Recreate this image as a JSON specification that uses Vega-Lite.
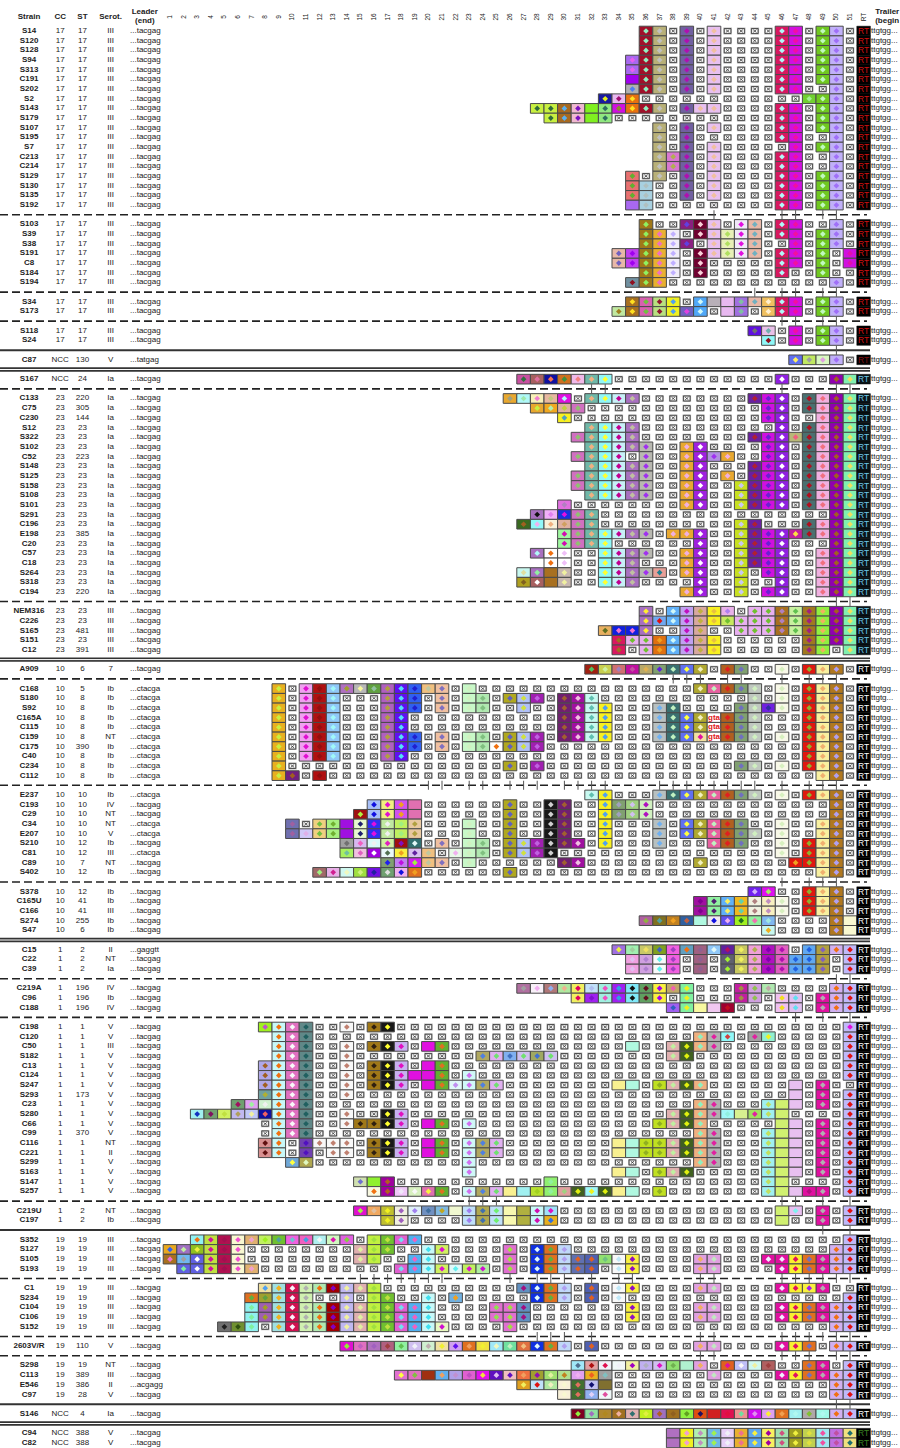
{"$schema":"https://vega.github.io/schema/vega-lite/v6.json","width":900,"height":1448,"padding":0,"autosize":{"type":"none"},"background":"white","config":{"view":{"stroke":null},"text":{"font":"Liberation Sans","fontSize":8,"color":"#222"}},
"datasets":{
"seps":[{"n":"p0","n2":"RT","s":"g1","k":"d"},{"n":"p0","n2":"RT","s":"g2","k":"d"},{"n":"p0","n2":"RT","s":"g3","k":"d"},{"n":"p0","n2":"RT","s":"g4","k":"s"},{"n":"p0","n2":"RT","s":"g5","k":"w"},{"n":"p0","n2":"RT","s":"g6","k":"d"},{"n":"p0","n2":"RT","s":"g7","k":"d"},{"n":"p0","n2":"RT","s":"g8","k":"w"},{"n":"p0","n2":"RT","s":"g9","k":"d"},{"n":"p0","n2":"RT","s":"g10","k":"d"},{"n":"p0","n2":"RT","s":"g11","k":"d"},{"n":"p0","n2":"RT","s":"g12","k":"w"},{"n":"p0","n2":"RT","s":"g13","k":"d"},{"n":"p0","n2":"RT","s":"g14","k":"d"},{"n":"p0","n2":"RT","s":"g15","k":"d"},{"n":"p0","n2":"RT","s":"g16","k":"s"},{"n":"p0","n2":"RT","s":"g17","k":"d"},{"n":"p0","n2":"RT","s":"g18","k":"d"},{"n":"p0","n2":"RT","s":"g19","k":"d"},{"n":"p0","n2":"RT","s":"g20","k":"s"},{"n":"p0","n2":"RT","s":"g21","k":"w"}],
"ticks":[{"s":"g1","n":[41,46,47,49,50]},{"s":"g2","n":[44,46,47,49,50]},{"s":"g3","n":[46,47,49,50]},{"s":"g4","n":[50]},{"s":"g6","n":[32,33,46,50,51]},{"s":"g7","n":[50,51]},{"s":"g9","n":[38,39,40,42,43,46,48,49,50]},{"s":"g10","n":[20,21,23,24,26,27,28,30,31,32,33,37,38,39,40,41,42,43,44,46,48,49,50]},{"s":"g11","n":[46,48,49,50]},{"s":"g13","n":[50,51]},{"s":"g14","n":[47,49,51]},{"s":"g15","n":[23,24,25,46,47,49,51]},{"s":"g16","n":[49,51]},{"s":"g17","n":[15,16,17,18,19,20,21,26,28,29,30,32,34,35,40,41,46,47,48,49,50,51]},{"s":"g18","n":[28,29,30,32,40,41,46,47,48,49,50,51]},{"s":"g19","n":[40,41,46,47,48,50,51]},{"s":"g20","n":[50,51]}],
"absent":[
{"s":["S14","S120","S128","S103","S39","S38","S184","NEM316","C226","S274"],"n":[36,37,38,39,40,41,42,43,44,45,46,47,48,49,50,51]},
{"s":["S94","S313","C191","S202","S129","S130","S135","S192","S194","S34","C22","C39"],"n":[35,36,37,38,39,40,41,42,43,44,45,46,47,48,49,50,51]},
{"s":["S2","S165"],"n":[33,34,35,36,37,38,39,40,41,42,43,44,45,46,47,48,49,50,51]},
{"s":["S143","C75","S291","C57"],"n":[28,29,30,31,32,33,34,35,36,37,38,39,40,41,42,43,44,45,46,47,48,49,50,51]},
{"s":["S179","C18"],"n":[29,30,31,32,33,34,35,36,37,38,39,40,41,42,43,44,45,46,47,48,49,50,51]},
{"s":["S107","S195","S7","C213","C214"],"n":[37,38,39,40,41,42,43,44,45,46,47,48,49,50,51]},
{"s":["S191","C8","S173","S151","C12","C15","S163"],"n":[34,35,36,37,38,39,40,41,42,43,44,45,46,47,48,49,50,51]},
{"s":["S118","S378"],"n":[44,45,46,47,48,49,50,51]},{"s":["S24","S47"],"n":[45,46,47,48,49,50,51]},{"s":["C87"],"n":[47,48,49,50,51]},
{"s":["S167","C196","S264","S318","C219A","E546"],"n":[27,28,29,30,31,32,33,34,35,36,37,38,39,40,41,42,43,44,45,46,47,48,49,50,51]},
{"s":["C133"],"n":[26,27,28,29,30,31,32,33,34,35,36,37,38,39,40,41,42,43,44,45,46,47,48,49,50,51]},
{"s":["C230","S101","E198","C20","C97"],"n":[30,31,32,33,34,35,36,37,38,39,40,41,42,43,44,45,46,47,48,49,50,51]},
{"s":["S12","S102","S148","S108","A909","E237"],"n":[32,33,34,35,36,37,38,39,40,41,42,43,44,45,46,47,48,49,50,51]},
{"s":["S322","C52","S125","S158","C96","S298"],"n":[31,32,33,34,35,36,37,38,39,40,41,42,43,44,45,46,47,48,49,50,51]},
{"s":["C194"],"n":[39,40,41,42,43,44,45,46,47,48,49,50,51]},
{"s":["C165U","C166"],"n":[40,41,42,43,44,45,46,47,48,49,50,51]},
{"s":["C188"],"n":[38,39,40,41,42,43,44,45,46,47,48,49,50,51]},
{"s":["C168","S180","S92","C165A","C115","C159","C175","C40","C234","C112","C120","C50","S182"],"n":[9,10,11,12,13,14,15,16,17,18,19,20,21,22,23,24,25,26,27,28,29,30,31,32,33,34,35,36,37,38,39,40,41,42,43,44,45,46,47,48,49,50,51]},
{"s":["C198","C13","C124","S247","S293","C66","C99","C116","C221","C1"],"n":[8,9,10,11,12,13,14,15,16,17,18,19,20,21,22,23,24,25,26,27,28,29,30,31,32,33,34,35,36,37,38,39,40,41,42,43,44,45,46,47,48,49,50,51]},
{"s":["C193","S257"],"n":[16,17,18,19,20,21,22,23,24,25,26,27,28,29,30,31,32,33,34,35,36,37,38,39,40,41,42,43,44,45,46,47,48,49,50,51]},
{"s":["C29","S147","C219U"],"n":[15,16,17,18,19,20,21,22,23,24,25,26,27,28,29,30,31,32,33,34,35,36,37,38,39,40,41,42,43,44,45,46,47,48,49,50,51]},
{"s":["C34","E207","S299"],"n":[10,11,12,13,14,15,16,17,18,19,20,21,22,23,24,25,26,27,28,29,30,31,32,33,34,35,36,37,38,39,40,41,42,43,44,45,46,47,48,49,50,51]},
{"s":["S210","C81","2603V/R"],"n":[14,15,16,17,18,19,20,21,22,23,24,25,26,27,28,29,30,31,32,33,34,35,36,37,38,39,40,41,42,43,44,45,46,47,48,49,50,51]},
{"s":["C89","C197"],"n":[17,18,19,20,21,22,23,24,25,26,27,28,29,30,31,32,33,34,35,36,37,38,39,40,41,42,43,44,45,46,47,48,49,50,51]},
{"s":["S402"],"n":[12,13,14,15,16,17,18,19,20,21,22,23,24,25,26,27,28,29,30,31,32,33,34,35,36,37,38,39,40,41,42,43,44,45,46,47,48,49,50,51]},
{"s":["C23","S234","C104","C106"],"n":[7,8,9,10,11,12,13,14,15,16,17,18,19,20,21,22,23,24,25,26,27,28,29,30,31,32,33,34,35,36,37,38,39,40,41,42,43,44,45,46,47,48,49,50,51]},
{"s":["S280","S352"],"n":[3,4,5,6,7,8,9,10,11,12,13,14,15,16,17,18,19,20,21,22,23,24,25,26,27,28,29,30,31,32,33,34,35,36,37,38,39,40,41,42,43,44,45,46,47,48,49,50,51]},
{"s":["S127","S105","S193"],"n":[2,3,4,5,6,7,8,9,10,11,12,13,14,15,16,17,18,19,20,21,22,23,24,25,26,27,28,29,30,31,32,33,34,35,36,37,38,39,40,41,42,43,44,45,46,47,48,49,50,51]},
{"s":["S152"],"n":[5,6,7,8,9,10,11,12,13,14,15,16,17,18,19,20,21,22,23,24,25,26,27,28,29,30,31,32,33,34,35,36,37,38,39,40,41,42,43,44,45,46,47,48,49,50,51]},
{"s":["C113"],"n":[18,19,20,21,22,23,24,25,26,27,28,29,30,31,32,33,34,35,36,37,38,39,40,41,42,43,44,45,46,47,48,49,50,51]}
],
"cells":[
{"n":28,"f":"#c8f040","d":"#2f6b3a","s":["S143"]},
{"n":29,"f":"#c8f040","d":"#2f6b3a","s":["S143","S179"]},
{"n":30,"f":"#a86a20","d":"#5ab0f0","s":["S143","S179"]},
{"n":31,"f":"#f0b8d0","d":"#7a10c0","s":["S143","S179"]},
{"n":32,"f":"#80f020","s":["S143","S179"]},
{"n":33,"f":"#90e880","d":"#2f7060","s":["S143","S179"]},
{"n":33,"f":"#1a1aa0","d":"#e8f020","s":["S2"]},
{"n":34,"f":"#d010e0","d":"#8a8a30","s":["S143"]},
{"n":34,"f":"#e8b8f0","d":"#a01070","s":["S2"]},
{"n":35,"f":"#e87010","d":"#ffe020","s":["S2","S143"]},
{"n":35,"f":"#a868f0","d":"#e860f0","s":["S94","S313"]},
{"n":35,"f":"#a000f0","s":["C191"]},
{"n":35,"f":"#b0b0b0","d":"#5080f0","s":["S202"]},
{"n":35,"f":"#e87070","d":"#60b030","s":["S129","S130","S135"]},
{"n":35,"f":"#a868f0","s":["S192"]},
{"n":36,"f":"#a0102a","d":"#90f0c0","s":["S14","S120","S128","S94","S313","C191","S202","S143"]},
{"n":36,"f":"#a8d0e0","d":"#b0c0c0","s":["S130","S135","S192"]},
{"n":37,"f":"#b8b078","d":"#c0c0c0","s":["S14","S120","S128","S94","S313","C191","S202","S143","S107","S195","S7","C213","C214","S129"]},
{"n":38,"f":"#d878d0","d":"#b0b050","s":["C213","C214"]},
{"n":39,"f":"#7060a0","d":"#b010b0","s":["S14","S120","S128","S94","S313","C191","S202","S143","S107","S195","S7","C213","C214","S129","S130","S135"]},
{"n":40,"f":"#e8c0f0","d":"#f0c0a0","s":["S143"]},
{"n":41,"f":"#e8c0f0","d":"#f0c0a0","s":["S14","S120","S128","S94","S313","C191","S202","S143","S107","S7","C213","C214","S129","S130","S135","S103","S39","S38","S191"]},
{"n":46,"f":"#d81860","d":"#b0f8f8","s":["S14","S120","S128","S94","S313","C191","S202","S143","S179","S107","S195","C213","C214","S129","S130","S135","S192","S103","S39","S191","C8","S184","S34","S173"]},
{"n":47,"f":"#d010e0","d":"#f010a0","s":["S14","S120","S128","S94","S313","C191","S202","S143","S179","S107","S195","S7","C213","C214","S129","S130","S135","S192","S103","S39","S38","S191","C8","S34","S173","S118","S24"]},
{"n":48,"f":"#70d030","d":"#a0f090","s":["S2"]},
{"n":49,"f":"#70c820","d":"#c0f8c0","s":["S14","S120","S128","S94","S313","C191","S2","S143","S179","S107","S7","S129","S130","S135","S192","S39","S38","S191","C8","S184","S34","S173","S118","S24"]},
{"n":50,"f":"#c0b0f8","d":"#a070f8","s":["S14","S120","S128","S94","S313","C191","S202","S2","S143","S179","S107","S195","S7","C213","C214","S129","S130","S135","S192","S103","S39","S38","S194","S34","S173","S118","S24","C87"]},
{"n":34,"f":"#e8b8a8","d":"#7060c0","s":["S191","C8"]},
{"n":35,"f":"#c040f0","d":"#a000f0","s":["S191","C8"]},
{"n":35,"f":"#7090a0","d":"#901020","s":["S194"]},
{"n":34,"f":"#c0e8a0","d":"#a08020","s":["S173"]},
{"n":35,"f":"#a87020","d":"#ffe020","s":["S34","S173"]},
{"n":36,"f":"#a07818","d":"#90f060","s":["S103","S39","S38","S191","C8","S184","S194"]},
{"n":36,"f":"#d860b0","d":"#70c040","s":["S34","S173"]},
{"n":37,"f":"#e8b030","d":"#f070c0","s":["S39","S38","S191","C8","S184","S194"]},
{"n":37,"f":"#b8e080","d":"#901830","s":["S34","S173"]},
{"n":38,"f":"#f0ecf8","d":"#c0b0ff","s":["S39","S38","S191","C8","S184"]},
{"n":38,"f":"#f0f020","d":"#50a0f0","s":["S34","S173"]},
{"n":39,"f":"#8a2080","d":"#6040e0","s":["S103","S38"]},
{"n":39,"f":"#7060c0","d":"#e040e0","s":["S173"]},
{"n":40,"f":"#700030","d":"#f8d0d8","s":["S103","S39","S191","C8","S184"]},
{"n":40,"f":"#50a8f8","d":"#d0f8f8","s":["S34","S173"]},
{"n":41,"f":"#b8b0b8","s":["S34"]},
{"n":42,"f":"#e8f0b8","d":"#b0e060","s":["S39","S38","S191"]},
{"n":42,"f":"#e8b8f0","s":["S34","S173"]},
{"n":43,"f":"#f0e8f8","d":"#e010e0","s":["S103","S39","S38","S191"]},
{"n":43,"f":"#a070e0","d":"#80c0a0","s":["S34","S173"]},
{"n":44,"f":"#e8b8a8","d":"#70b0c0","s":["S103","S39","S38","S191","S34"]},
{"n":45,"f":"#f0c060","d":"#fff0d0","s":["S34","S173"]},
{"n":44,"f":"#6010e0","d":"#707070","s":["S118"]},
{"n":45,"f":"#e8c0e8","d":"#70b0b0","s":["S118"]},
{"n":45,"f":"#90f8f8","d":"#901020","s":["S24"]},
{"n":51,"f":"#d010e0","d":"#e010b0","s":["S191","C8"]},
{"n":47,"f":"#6070f0","d":"#fff060","s":["C87"]},
{"n":48,"f":"#c0e860","d":"#a0a0a0","s":["C87"]},
{"n":49,"f":"#d8f8c0","d":"#e0a0e0","s":["C87"]},
{"n":27,"f":"#c850a0","d":"#307040","s":["S167"]},
{"n":28,"f":"#a86060","d":"#e070a0","s":["S167"]},
{"n":29,"f":"#1010a0","d":"#f07050","s":["S167"]},
{"n":30,"f":"#d07020","d":"#409040","s":["S167"]},
{"n":31,"f":"#f0b8e8","d":"#f08080","s":["S167"]},
{"n":26,"f":"#e8a830","d":"#a0a080","s":["C133"]},
{"n":27,"f":"#b0f8f8","d":"#a0e8b0","s":["C133"]},
{"n":28,"f":"#f8f0b8","d":"#f080d0","s":["C133"]},
{"n":29,"f":"#e8b8a0","d":"#c0c880","s":["C133"]},
{"n":30,"f":"#e010e0","d":"#b0f8f8","s":["C133"]},
{"n":28,"f":"#e8a830","d":"#c8f040","s":["C75"]},
{"n":29,"f":"#f0a820","d":"#b0f0b0","s":["C75"]},
{"n":30,"f":"#e0b0a0","d":"#c0d040","s":["C75"]},
{"n":30,"f":"#f8f020","d":"#50a0c0","s":["C230"]},
{"n":30,"f":"#e070e0","d":"#b080c0","s":["S101"]},
{"n":28,"f":"#a870c0","d":"#101010","s":["S291"]},
{"n":29,"f":"#f0b0f8","d":"#e080f0","s":["S291"]},
{"n":30,"f":"#1830e0","d":"#e010e0","s":["S291"]},
{"n":27,"f":"#3a6a20","d":"#a06020","s":["C196"]},
{"n":28,"f":"#90f8f8","d":"#f0b0f0","s":["C196"]},
{"n":29,"f":"#f8f0d8","d":"#f0b080","s":["C196"]},
{"n":30,"f":"#e0b0a0","d":"#d0a060","s":["C196"]},
{"n":30,"f":"#a0f8a0","d":"#d010b0","s":["E198","C20"]},
{"n":31,"f":"#d070c0","d":"#90c070","s":["C75","S322","C52","S125","S158","S291","C196","E198","C20"]},
{"n":28,"f":"#a870c0","d":"#b0f8f8","s":["C57"]},
{"n":29,"f":"#ffffff","d":"#f07010","s":["C57","C18"]},
{"n":30,"f":"#ffffff","d":"#f0c0f8","s":["C57","C18"]},
{"n":27,"f":"#c8f8f0","d":"#e0e0a0","s":["S264"]},
{"n":28,"f":"#a870c0","d":"#90f0a0","s":["S264"]},
{"n":29,"f":"#a87020","s":["S264","S318"]},
{"n":30,"f":"#c8b8b0","d":"#f0f0a0","s":["S264","S318"]},
{"n":27,"f":"#b0a020","d":"#806020","s":["S318"]},
{"n":28,"f":"#a86060","d":"#ffffff","s":["S318"]},
{"n":32,"f":"#70b8a8","d":"#f0b080","s":["S167","C133","S12","S322","S102","C52","S148","S125","S158","S108","S291","C196","E198","C20"]},
{"n":33,"f":"#90f8f8","d":"#ffff30","s":["S167","C133","S12","S322","S102","C52","S148","S125","S158","S108","E198","C20","C57","C18","S264","S318"]},
{"n":34,"f":"#c8f0f8","d":"#c00090","s":["C133","S12","S322","S102","C52","S148","S125","S158","S108","E198","C57","C18","S264","S318"]},
{"n":35,"f":"#a870c0","d":"#c0c0a0","s":["C133","S12","S322","S102","S148","S125","S158","S108","E198","C57","C18","S264","S318"]},
{"n":36,"f":"#b8b8b0","d":"#a030f0","s":["S102","C52","S148","S125","S158","S108","E198","C57","S264"]},
{"n":37,"f":"#e8a098","d":"#208090","s":["S264"]},
{"n":38,"f":"#e8a830","d":"#f0b0e0","s":["E198"]},
{"n":39,"f":"#e8a830","d":"#f0b0e0","s":["S102","C52","S148","S125","S158","S108","S101","E198","C57","C18","S264","C194"]},
{"n":40,"f":"#a020e0","d":"#ffffff","s":["S102","C52","S148","S125","S158","S108","S101","E198","C20","C57","C18","S264","S318","C194"]},
{"n":41,"f":"#b090e0","d":"#a030f0","s":["C52"]},
{"n":42,"f":"#e8a830","d":"#f0b0e0","s":["C52","S125"]},
{"n":43,"f":"#c8e020","d":"#c8c8f0","s":["S158","S108","S101","C196","E198","C20","C57","C18","S264","S318","C194"]},
{"n":44,"f":"#6a20a0","d":"#b02030","s":["C133","S322","S148","S125","S158","S108","S101","C196","E198","C20","C57","C18"]},
{"n":45,"f":"#d010e0","d":"#6a20d0","s":["C133","C75","C230","S322","S102","C52","S148","S125","S158","S108","S101","E198","C20","C57","C18","S264","C194"]},
{"n":46,"f":"#9020e0","d":"#ffffff","s":["S167","C133","C75","C230","S12","S322","S102","C52","S148","S125","S158","S108","S101","E198","C20","C57","C18","S264","S318","C194"]},
{"n":47,"f":"#b8b878","d":"#f06080","s":["S322"]},
{"n":47,"f":"#c020a0","d":"#ffe040","s":["E198"]},
{"n":48,"f":"#4a7070","d":"#b01020","s":["C133","C75","S12","S322","S102","C52","S148","S125","S158","S108","S101","C196","E198"]},
{"n":49,"f":"#f0b0e0","d":"#f07080","s":["C133","C75","C230","S12","S322","S102","C52","S148","S125","S158","S108","S101","C196","E198","C57","C18","S264","S318","C194"]},
{"n":50,"f":"#9000b0","d":"#a06020","s":["S167","C133","C75","C230","S12","S322","S102","C52","S148","S125","S158","S108","S101","S291","C196","E198","C20","C57","C18","S264","S318","C194","NEM316","C226","S165","S151"]},
{"n":51,"f":"#80f0b0","d":"#f0e060","s":["S167","C133","C75","C230","S12","S322","S102","C52","S148","S125","S158","S108","S101","S291","C196","E198","C20","C57","C18","S264","S318","C194","NEM316","C226","S165","S151","C12"]},
{"n":33,"f":"#e8b060","d":"#607020","s":["S165"]},
{"n":34,"f":"#1020e0","d":"#f070d0","s":["S165"]},
{"n":35,"f":"#1020e0","d":"#f070d0","s":["S165"]},
{"n":34,"f":"#d81860","d":"#a07020","s":["S151","C12"]},
{"n":35,"f":"#e8b0f0","d":"#70c030","s":["S151"]},
{"n":36,"f":"#a870c0","d":"#ffee30","s":["NEM316","C226","S165"]},
{"n":36,"f":"#e8b0f0","d":"#70c030","s":["S151","C12"]},
{"n":37,"f":"#e07010","d":"#f0a020","s":["S151","C12"]},
{"n":37,"f":"#70a8f0","d":"#e01010","s":["C226"]},
{"n":38,"f":"#60b0f8","d":"#d0f8f8","s":["NEM316","C226","S151","C12"]},
{"n":39,"f":"#c0a0f0","d":"#c010c0","s":["NEM316","C226","S165","S151","C12"]},
{"n":40,"f":"#d8a8a0","d":"#c0b040","s":["NEM316","C226","S165","S151","C12"]},
{"n":41,"f":"#f8f020","d":"#e8c040","s":["NEM316","C226","S151","C12"]},
{"n":42,"f":"#e8b0e8","d":"#b080f0","s":["NEM316"]},
{"n":42,"f":"#c8e860","d":"#70c030","s":["C226"]},
{"n":43,"f":"#e8b0f0","d":"#70c030","s":["C226","S165"]},
{"n":44,"f":"#e8b0f0","d":"#70c030","s":["NEM316","C226","S165"]},
{"n":45,"f":"#e8b0f0","d":"#70c030","s":["NEM316","C226","S165"]},
{"n":46,"f":"#a87020","d":"#b080c0","s":["NEM316","C226","S165"]},
{"n":47,"f":"#c8f0a0","d":"#60c050","s":["NEM316","C226","S165"]},
{"n":48,"f":"#a07820","d":"#a02080","s":["NEM316","C226","S165","S151","C12"]},
{"n":49,"f":"#90f040","d":"#f0b060","s":["NEM316","C226","S165","S151","C12"]},
{"n":32,"f":"#a02010","d":"#50c060","s":["A909"]},
{"n":33,"f":"#c8d050","d":"#d0f0a0","s":["A909"]},
{"n":34,"f":"#d07070","d":"#a080c0","s":["A909"]},
{"n":35,"f":"#c010a0","d":"#c050a0","s":["A909"]},
{"n":36,"f":"#b8a868","d":"#e0b050","s":["A909"]},
{"n":37,"f":"#80a070","d":"#6020e0","s":["A909"]},
{"n":38,"f":"#3a7070","d":"#c0f0c0","s":["A909","S92","C165A","C115","C159","E237"]},
{"n":39,"f":"#6070f0","d":"#ffff40","s":["A909","C165A","C115","C159","E237","C34","E207"]},
{"n":40,"f":"#b0a830","d":"#f0f0c0","s":["A909","C168","C165A","C115","E237","C34","E207","C89"]},
{"n":40,"f":"#f0e0a0","d":"#e010a0","s":["C159"]},
{"n":41,"f":"#e860a0","d":"#c0f0c0","s":["C168","E237","C34","E207","S210"]},
{"n":41,"f":"#ffffff","s":["C165A","C115","C159"]},
{"n":42,"f":"#b06020","d":"#e02020","s":["A909","C168","C165A","C115","C159","E237","C34","E207","S210"]},
{"n":43,"f":"#80a070","d":"#7070c0","s":["A909","C168","S92","C165A","C115","C159","C234","E237","C34","E207","S210"]},
{"n":44,"f":"#c0c8c0","d":"#d0f0c0","s":["C168","S180","S92","C165A","C115","C159","C234","E237","E207"]},
{"n":45,"f":"#7020e0","d":"#3030a0","s":["S92"]},
{"n":46,"f":"#f8f8e8","d":"#d8f0c0","s":["A909","C168","S180","S92","C159","C234","E237","C34","E207","S210","C81","C165U","C166"]},
{"n":48,"f":"#e01810","d":"#90b030","s":["A909","C168","S180","S92","C165A","C115","C159","C175","C40","C234","E237","S210","C81","C89","S378","C165U","C166"]},
{"n":47,"f":"#e01810","d":"#f0a020","s":["C89"]},
{"n":49,"f":"#f8f0a0","d":"#f0b070","s":["A909","C168","S180","S92","C165A","C115","C159","C175","C40","C234","C112","E237","C34","E207","S210","C81","C89","S402","S378","C165U","C166"]},
{"n":50,"f":"#b07820","d":"#b0a0f0","s":["A909","C168","S180","S92","C165A","C115","C159","C175","C40","C234","C112","E237","C193","C29","C34","E207","S210","C81","C89","S402","S378","C165U","C166","S274","S47"]},
{"n":51,"f":"#f8f8d0","s":["S274","S47"]},
{"n":9,"f":"#e8b020","d":"#c8f040","s":["C168","S180","S92","C165A","C115","C159","C175","C40","C234","C112"]},
{"n":10,"f":"#702080","d":"#a06020","s":["C112"]},
{"n":11,"f":"#f0a0f0","d":"#e010d0","s":["C168","S180","S92","C165A","C115","C159","C175","C40"]},
{"n":12,"f":"#b01010","d":"#901010","s":["C168","S180","S92","C165A","C115","C159","C175","C40","C112"]},
{"n":13,"f":"#90c8f8","d":"#a0f8f8","s":["C168","S180","S92","C165A","C115","C159","C175","C40"]},
{"n":14,"f":"#b070c0","d":"#a0a030","s":["C168"]},
{"n":15,"f":"#b8b8b8","d":"#f8f8a0","s":["C168"]},
{"n":16,"f":"#60a040","d":"#90c0a0","s":["C168"]},
{"n":17,"f":"#b060c0","d":"#b0a040","s":["C168","S180","S92","C165A","C115","C159","C175","C40"]},
{"n":18,"f":"#6010f0","d":"#50e0f8","s":["C168","S180","S92","C165A","C115","C159","C175","C40"]},
{"n":19,"f":"#3060f0","d":"#2020d0","s":["C168","S180","S92","C159","C175"]},
{"n":20,"f":"#f0c080","d":"#c0c8a0","s":["C168","C81","C89"]},
{"n":21,"f":"#f0c0a0","d":"#8070c0","s":["C168","S180","S92","C159","C175","S210","C89"]},
{"n":23,"f":"#c8f8c8","d":"#d0f0c0","s":["C168","S180","S92","C159","C175","C34","E207","S210","C81","C89"]},
{"n":24,"f":"#b0e8b0","d":"#80c080","s":["S180","S92","C159","C175","S210","C81"]},
{"n":25,"f":"#ffffff","d":"#f07010","s":["C175"]},
{"n":26,"f":"#b0a820","d":"#6060c0","s":["S180","C159","C175","C234","C193","C29","C34","E207","S210","C81","S402"]},
{"n":27,"f":"#b0c0f8","d":"#d0e040","s":["S180","S92","C159","C175","S210","C81"]},
{"n":28,"f":"#a020b0","d":"#c060e0","s":["S180","C159","C175","C234","S210","C81"]},
{"n":29,"f":"#181818","d":"#d0d0d0","s":["C193","C29","C34","E207","S210","C81"]},
{"n":30,"f":"#702070","d":"#a06030","s":["S180","S92","C165A","C115","C159","C193","C29","C34","E207","S210","C89"]},
{"n":31,"f":"#a010a0","d":"#f0c0e0","s":["S180","S92","C165A","C115","C159","S210","C89"]},
{"n":32,"f":"#c8f8f0","d":"#60c0b0","s":["S180","S92","C165A","C115","C159","E237"]},
{"n":33,"f":"#f8f020","d":"#50a0f0","s":["S92","C165A","C115","C159","E237","C193","C29","C34","E207","S210"]},
{"n":34,"f":"#80a070","d":"#a0a0c0","s":["C193","C29"]},
{"n":35,"f":"#a0d080","d":"#d0c0f0","s":["C193","C29"]},
{"n":36,"f":"#d0f0c0","d":"#b010c0","s":["C193","C29"]},
{"n":37,"f":"#b8c0c0","d":"#70b0f0","s":["S92","C165A","C115","C159","E237","C34","E207","S210"]},
{"n":16,"f":"#a8c0f8","d":"#1010e0","s":["C193","C29"]},
{"n":17,"f":"#f0f080","d":"#e010d0","s":["C193","C29"]},
{"n":18,"f":"#d050f0","d":"#f0a020","s":["C193","C29"]},
{"n":19,"f":"#e070b0","s":["C193","C29"]},
{"n":15,"f":"#a01010","d":"#b0f040","s":["C29"]},
{"n":10,"f":"#7070b0","d":"#a060a0","s":["C34","E207"]},
{"n":11,"f":"#d0c8f8","d":"#e0b0e8","s":["E207"]},
{"n":12,"f":"#f0d080","d":"#70c040","s":["C34","E207"]},
{"n":13,"f":"#a8f080","d":"#70b030","s":["C34","E207"]},
{"n":14,"f":"#a010e0","s":["C34","E207"]},
{"n":15,"f":"#e8f8d0","d":"#202070","s":["C34","E207"]},
{"n":16,"f":"#3030f0","d":"#e010e0","s":["C34","E207"]},
{"n":17,"f":"#c0e8a0","d":"#f0f0f0","s":["C34","E207"]},
{"n":18,"f":"#c0f060","d":"#a0f080","s":["C34","E207"]},
{"n":19,"f":"#e8c8a0","d":"#b0a040","s":["C34","E207"]},
{"n":14,"f":"#a0a0a0","d":"#707070","s":["S210"]},
{"n":15,"f":"#d8b8f0","d":"#f060c0","s":["S210"]},
{"n":16,"f":"#d8f8f8","d":"#f0f0f0","s":["S210"]},
{"n":17,"f":"#d0f0a0","d":"#e020c0","s":["S210"]},
{"n":18,"f":"#a01010","d":"#8010c0","s":["S210"]},
{"n":19,"f":"#307070","d":"#e0f8f8","s":["S210"]},
{"n":14,"f":"#a8f060","d":"#70c0a0","s":["C81"]},
{"n":15,"f":"#f0c0e0","d":"#e060c0","s":["C81"]},
{"n":16,"f":"#a000e0","d":"#ffffff","s":["C81"]},
{"n":17,"f":"#e8f8f8","d":"#507050","s":["C81"]},
{"n":18,"f":"#f8f040","d":"#f0a020","s":["C81"]},
{"n":19,"f":"#d8c0f0","d":"#6020a0","s":["C81"]},
{"n":22,"f":"#e8f8e8","d":"#f0b0f0","s":["C81"]},
{"n":17,"f":"#80a070","d":"#2020f0","s":["C89"]},
{"n":18,"f":"#c080f0","d":"#c010e0","s":["C89"]},
{"n":19,"f":"#d020f0","d":"#a0f040","s":["C89"]},
{"n":12,"f":"#a06868","d":"#a0f080","s":["S402"]},
{"n":13,"f":"#e8b0e8","d":"#d02090","s":["S402"]},
{"n":14,"f":"#d0f8f0","d":"#f0f8c0","s":["S402"]},
{"n":15,"f":"#a0e040","d":"#d0f080","s":["S402"]},
{"n":16,"f":"#7010e0","d":"#2020a0","s":["S402"]},
{"n":17,"f":"#70a070","d":"#e0e0e0","s":["S402"]},
{"n":18,"f":"#f0b0f0","d":"#1010e0","s":["S402"]},
{"n":19,"f":"#e07020","d":"#f0a020","s":["S402"]},
{"n":44,"f":"#7020f0","d":"#d0b0f8","s":["S378"]},
{"n":45,"f":"#e010f0","d":"#a0f060","s":["S378"]},
{"n":40,"f":"#a010a0","d":"#800090","s":["C165U","C166"]},
{"n":41,"f":"#90f0a0","d":"#502070","s":["C165U","C166"]},
{"n":42,"f":"#60b0f8","d":"#f8f060","s":["C165U","C166"]},
{"n":43,"f":"#f0b820","d":"#60d0b0","s":["C165U","C166"]},
{"n":44,"f":"#f0f0e0","d":"#b08080","s":["C165U","C166"]},
{"n":45,"f":"#f8f0c0","d":"#c090c0","s":["C165U","C166"]},
{"n":36,"f":"#b060a0","d":"#90b040","s":["S274"]},
{"n":37,"f":"#807020","d":"#50a0a0","s":["S274"]},
{"n":38,"f":"#c08020","d":"#f0a020","s":["S274"]},
{"n":39,"f":"#3060a0","d":"#c06040","s":["S274"]},
{"n":40,"f":"#b0f8e0","s":["S274"]},
{"n":41,"f":"#f0e8f0","d":"#1010e0","s":["S274"]},
{"n":42,"f":"#6050f0","d":"#f0b0f0","s":["S274"]},
{"n":43,"f":"#a0f020","d":"#207020","s":["S274"]},
{"n":44,"f":"#90f0a0","d":"#f070b0","s":["S274"]},
{"n":45,"f":"#80b8f0","d":"#a0e8e0","s":["S274"]},
{"n":45,"f":"#c8f8f0","d":"#f0b020","s":["S47"]},
{"n":34,"f":"#a070e0","d":"#e8f040","s":["C15"]},
{"n":35,"f":"#a0f0b0","d":"#a0d0a0","s":["C15"]},
{"n":36,"f":"#c8c868","d":"#f0e060","s":["C15"]},
{"n":37,"f":"#80a020","d":"#4060c0","s":["C15"]},
{"n":38,"f":"#f060e0","d":"#a040c0","s":["C15","C22","C39"]},
{"n":39,"f":"#60a0c0","d":"#f07010","s":["C15"]},
{"n":40,"f":"#a06080","d":"#906090","s":["C15","C22","C39"]},
{"n":41,"f":"#90c8f8","d":"#e0f8f8","s":["C15"]},
{"n":42,"f":"#6020a0","d":"#b01060","s":["C15"]},
{"n":42,"f":"#606070","d":"#a0f030","s":["C22","C39"]},
{"n":43,"f":"#c8c860","d":"#f0f060","s":["C15","C22","C39"]},
{"n":44,"f":"#f0a0d8","d":"#b0b050","s":["C15","C22","C39"]},
{"n":45,"f":"#b010c0","d":"#8000b0","s":["C15","C22","C39"]},
{"n":46,"f":"#e060c0","d":"#b010b0","s":["C15","C22","C39"]},
{"n":47,"f":"#60a8f0","d":"#2060e0","s":["C22","C39"]},
{"n":48,"f":"#60a8f0","d":"#2060e0","s":["C15","C22","C39"]},
{"n":49,"f":"#b0a040","d":"#8060c0","s":["C15","C22","C39"]},
{"n":35,"f":"#f0a0e0","d":"#e0c0f0","s":["C22","C39"]},
{"n":36,"f":"#d0a0e0","d":"#b080d0","s":["C22","C39"]},
{"n":37,"f":"#f8f8f8","d":"#60f0f0","s":["C22","C39"]},
{"n":27,"f":"#b070a0","d":"#a0a0a0","s":["C219A"]},
{"n":28,"f":"#f8f0f8","d":"#f0b0f0","s":["C219A"]},
{"n":29,"f":"#b07878","d":"#90b0f0","s":["C219A"]},
{"n":30,"f":"#b0e8a0","d":"#f0b090","s":["C219A"]},
{"n":31,"f":"#f0f060","d":"#e00060","s":["C219A","C96"]},
{"n":32,"f":"#c0e0f8","d":"#b0c0f0","s":["C219A"]},
{"n":32,"f":"#a020f0","d":"#8010d0","s":["C96"]},
{"n":33,"f":"#a0f0e0","d":"#f050c0","s":["C219A","C96"]},
{"n":34,"f":"#a020f0","d":"#30a0e0","s":["C219A","C96"]},
{"n":35,"f":"#80e8f8","d":"#101010","s":["C219A","C96"]},
{"n":36,"f":"#60a060","d":"#601020","s":["C219A","C96"]},
{"n":37,"f":"#f8f040","d":"#a000f0","s":["C219A","C96"]},
{"n":38,"f":"#c0a868","d":"#f060b0","s":["C219A"]},
{"n":38,"f":"#a060f0","d":"#3060c0","s":["C188"]},
{"n":39,"f":"#80f0a0","d":"#f0f020","s":["C219A","C96","C188"]},
{"n":40,"f":"#f8f8a0","s":["C188"]},
{"n":41,"f":"#f0c8f0","s":["C188"]},
{"n":42,"f":"#a00030","d":"#c01020","s":["C188"]},
{"n":43,"f":"#c020a0","d":"#a09040","s":["C219A","C96"]},
{"n":44,"f":"#d0a0e0","d":"#90c050","s":["C219A","C96"]},
{"n":45,"f":"#b0e8b0","d":"#c0a8a8","s":["C219A"]},
{"n":46,"f":"#f0c0f0","d":"#f0e020","s":["C96","C188"]},
{"n":47,"f":"#e0c0f0","d":"#60e0f0","s":["C96","C188"]},
{"n":49,"f":"#e010a0","d":"#b0b0b0","s":["C96","C188","S247","S293","C23","C66","C99","C116","C221","S299","S163","S257","C219U","C197","S105","S193","C1","C104","C106","S298","C113"]},
{"n":50,"f":"#d0b0f0","d":"#f07010","s":["C15","C219A","C96","C188","S127","S105","S193","C104","C106","S152","2603V/R","C113","E546","C97","S146"]},
{"n":51,"f":"#c0b8f8","d":"#e01010","s":["C15","C22","C39","C219A","C96","C188","C120","C50","S182","C13","C124","S293","C23","S280","C66","C99","C116","C221","S299","S163","S147","S257","C219U","C197","S352","S127","S105","S193","S234","C104","C106","S152","2603V/R","S298","C113","E546","C97","S146"]},
{"n":51,"f":"#c0b8f8","d":"#e010e0","s":["C198"]},
{"n":8,"f":"#a0f020","d":"#c050d0","s":["C198"]},
{"n":8,"f":"#b0a8e8","d":"#a06020","s":["C13","C124","S247"]},
{"n":8,"f":"#70a0a0","d":"#b0b030","s":["S293"]},
{"n":6,"f":"#70a070","d":"#a01060","s":["C23"]},
{"n":7,"f":"#e0a0f0","d":"#a0f0a0","s":["C23"]},
{"n":8,"f":"#d0f0d0","d":"#f0f0f0","s":["C23"]},
{"n":3,"f":"#a0f0f0","d":"#1030c0","s":["S280"]},
{"n":4,"f":"#70a070","d":"#801060","s":["S280"]},
{"n":5,"f":"#d0f060","d":"#c0e040","s":["S280"]},
{"n":6,"f":"#c0b8f0","d":"#b0a060","s":["S280"]},
{"n":7,"f":"#c0c8f8","d":"#f0f0a0","s":["S280"]},
{"n":8,"f":"#1010a0","d":"#f06060","s":["S280"]},
{"n":8,"f":"#d89090","d":"#601010","s":["C116","C221"]},
{"n":9,"f":"#c8f8f8","d":"#f07010","s":["C198","C120","C50","S182","C13","C124","S247","S293","C23","S280","C66","C99","C116","C221"]},
{"n":10,"f":"#e070c0","d":"#f8f8f8","s":["C198","C120","C50","S182","C13","C124","S247","S293","C23","S280","C66","C99"]},
{"n":10,"f":"#70a8d8","d":"#ffff40","s":["S299"]},
{"n":11,"f":"#608888","d":"#206060","s":["C198","C120","C50","S182","C13","C124","S247","S293","C23","S280","C66","C99"]},
{"n":11,"f":"#7040b0","d":"#5010c0","s":["C116","C221"]},
{"n":11,"f":"#b0a850","d":"#e0f8c0","s":["S299"]},
{"n":12,"f":"#f8f8f8","d":"#c08070","s":["C116"]},
{"n":13,"f":"#f8f8f8","d":"#c08070","s":["C116","C221"]},
{"n":14,"f":"#f8f8f8","d":"#c08070","s":["C198","C50","S182","C13","C124","S247","S293","S280","C66","C116","C221"]},
{"n":15,"f":"#a07818","d":"#302010","s":["C66"]},
{"n":15,"f":"#d0e0b0","d":"#7070d0","s":["S147"]},
{"n":16,"f":"#a07818","d":"#302010","s":["C198","C50","C13","C124","S247","C66","C116","C221"]},
{"n":16,"f":"#90f030","s":["S147"]},
{"n":16,"f":"#f8f8e0","d":"#f07010","s":["S257"]},
{"n":17,"f":"#181818","d":"#ffff30","s":["C198","C50","C13","C124","S247","S280","C66","C116","C221"]},
{"n":17,"f":"#a000a0","d":"#b06020","s":["S147","S257"]},
{"n":18,"f":"#c8b0f0","d":"#e010c0","s":["C50","C13","C124","S247","S280","C66","C116","C221"]},
{"n":18,"f":"#f0c8f8","d":"#f0e8f8","s":["S257"]},
{"n":19,"f":"#e010e0","s":["C124"]},
{"n":19,"f":"#d8f0c0","d":"#f8f8f8","s":["S257"]},
{"n":20,"f":"#e010e0","s":["C50","C13","C124","S247","C66","C116","C221"]},
{"n":20,"f":"#e070b0","d":"#f8f040","s":["S257"]},
{"n":21,"f":"#60b030","d":"#e07020","s":["C50","C13","C124","S247","C66","C116","C221","S257"]},
{"n":22,"f":"#e0f8f8","d":"#c090f0","s":["S247"]},
{"n":23,"f":"#d0f8f8","d":"#d070f0","s":["C124","S247","C66","C116","C221","S299","S163","S257"]},
{"n":24,"f":"#b0a860","d":"#5080e0","s":["S182","S247","C116","C221","S257"]},
{"n":25,"f":"#e0b0f0","d":"#70e070","s":["S182","S247","C116","C221","S257"]},
{"n":26,"f":"#80b0f0","d":"#4070c0","s":["S182"]},
{"n":26,"f":"#f8f090","s":["S257"]},
{"n":27,"f":"#d0c0f0","d":"#70e070","s":["S182"]},
{"n":27,"f":"#a0f0f0","s":["S257"]},
{"n":28,"f":"#a0a860","d":"#4070d0","s":["S182"]},
{"n":28,"f":"#b8e030","d":"#a0d020","s":["S257"]},
{"n":29,"f":"#d0c0f0","d":"#70e070","s":["S182"]},
{"n":29,"f":"#90f070","d":"#90f0a0","s":["S257","S147"]},
{"n":30,"f":"#e0a0a0","d":"#a0d080","s":["S257"]},
{"n":31,"f":"#406020","d":"#e0f010","s":["S257"]},
{"n":32,"f":"#a0f8f8","d":"#f0f020","s":["S257"]},
{"n":33,"f":"#406020","d":"#e0f010","s":["S257"]},
{"n":34,"f":"#f8f090","s":["S247","C116","C221","S163","S257"]},
{"n":35,"f":"#b0f8e0","s":["C50","S247","C116","C221","S163","S257"]},
{"n":36,"f":"#c0e020","d":"#90b020","s":["C116","C221"]},
{"n":37,"f":"#c0e020","d":"#90b020","s":["S247","C66","C116","C221","S163","S257"]},
{"n":38,"f":"#e0b0b0","d":"#c0f0a0","s":["C50","S182","S247","S280","C66","C116","C221","S163"]},
{"n":39,"f":"#406020","d":"#e0f010","s":["C50","S182","S247","S280","C66","C116","C221","S163"]},
{"n":40,"f":"#f0b080","d":"#90f0c0","s":["C120","C50","S247","C23","S280","C66","C99","C116","C221","S299"]},
{"n":41,"f":"#b0b0b0","d":"#e020a0","s":["C120","C50","C23","S280","C99","C116","C221","S299"]},
{"n":42,"f":"#90f8f8","d":"#d04040","s":["C120"]},
{"n":42,"f":"#a0f8f8","d":"#90f0e0","s":["S280"]},
{"n":43,"f":"#d8f090","s":["S280"]},
{"n":44,"f":"#a0a0a0","d":"#e020a0","s":["C120"]},
{"n":44,"f":"#a0e060","d":"#e020a0","s":["S280"]},
{"n":45,"f":"#90f0d0","d":"#f0f020","s":["C120"]},
{"n":45,"f":"#a0f0f0","d":"#c0e060","s":["C23","S280","C99","C116","C221","S299","S163","S147","S257"]},
{"n":46,"f":"#d0f070","s":["C23","S280","C66","C99","C116","C221","S299","S163","S147","S257","C219U","C197"]},
{"n":47,"f":"#e8c0f0","s":["S247","S293","C23","C66","C99","C116","C221","S299","S163","S257"]},
{"n":47,"f":"#e8c0f0","d":"#80f0f0","s":["C219U"]},
{"n":48,"f":"#e010a0","d":"#b01080","s":["S257"]},
{"n":15,"f":"#e010d0","d":"#a0f040","s":["C219U"]},
{"n":16,"f":"#f0a860","d":"#e0c0a0","s":["C219U"]},
{"n":17,"f":"#c0c030","d":"#f0f020","s":["C219U","C197"]},
{"n":18,"f":"#f0f0e0","d":"#a060c0","s":["C219U","C197"]},
{"n":19,"f":"#e0f0f8","d":"#a080f0","s":["C219U"]},
{"n":20,"f":"#7090c0","d":"#4070a0","s":["C219U"]},
{"n":21,"f":"#80b8e0","d":"#c0a820","s":["C219U"]},
{"n":22,"f":"#f0f8d0","s":["C219U"]},
{"n":23,"f":"#c0e0f8","d":"#a080f0","s":["C219U","C197"]},
{"n":24,"f":"#b0a850","d":"#4070b0","s":["C219U","C197"]},
{"n":25,"f":"#c0e0f8","d":"#70f070","s":["C219U","C197"]},
{"n":26,"f":"#f8f8b0","s":["C219U","C197"]},
{"n":27,"f":"#b0b040","s":["C219U","C197"]},
{"n":28,"f":"#c8f8f8","d":"#d010b0","s":["C219U","C197"]},
{"n":29,"f":"#a0e0f8","d":"#e010c0","s":["C219U"]},
{"n":29,"f":"#e8b020","d":"#3070e0","s":["C197"]},
{"n":1,"f":"#e8a820","d":"#3060f0","s":["S127"]},
{"n":1,"f":"#a87020","d":"#f070d0","s":["S105"]},
{"n":2,"f":"#a070c0","d":"#c0f0a0","s":["S127"]},
{"n":2,"f":"#70b8f0","d":"#a0a0a0","s":["S105"]},
{"n":2,"f":"#6060e0","d":"#80f0a0","s":["S193"]},
{"n":3,"f":"#90f0f0","d":"#f07010","s":["S352"]},
{"n":3,"f":"#90c020","d":"#f0f040","s":["S127"]},
{"n":3,"f":"#6060e0","d":"#ffffff","s":["S105","S193"]},
{"n":4,"f":"#c0e040","d":"#d010a0","s":["S352","S127","S105","S193"]},
{"n":5,"f":"#b01050","d":"#a01050","s":["S352","S127","S105","S193"]},
{"n":6,"f":"#f8f8d0","d":"#f050d0","s":["S352","S127","S105","S193"]},
{"n":7,"f":"#e0b070","d":"#f0a0d0","s":["S352","S193"]},
{"n":8,"f":"#c0f060","d":"#a0f020","s":["S352"]},
{"n":9,"f":"#70c030","d":"#50a0a0","s":["S352"]},
{"n":10,"f":"#f060e0","d":"#70c0d0","s":["S352"]},
{"n":11,"f":"#f060c0","d":"#40a0e0","s":["S352"]},
{"n":12,"f":"#b0f0f0","d":"#f0f8f8","s":["S352"]},
{"n":13,"f":"#d0f8c0","d":"#e010b0","s":["S352"]},
{"n":14,"f":"#e060e0","d":"#80d040","s":["S352"]},
{"n":15,"f":"#e0b0b0","d":"#e0f0a0","s":["S127","S105","C1","C104","C106","S152"]},
{"n":16,"f":"#c0f040","d":"#a0e040","s":["S352","S127","S105","C1","S234","C104","C106","S152"]},
{"n":17,"f":"#70c030","d":"#c0e040","s":["S352","S127","S234","C104","C106","S152"]},
{"n":18,"f":"#e060d0","d":"#70e0f0","s":["S352","S193","C104","C106","S152"]},
{"n":19,"f":"#50b0f0","d":"#f060c0","s":["S352","S105","S193","C104","C106","S152"]},
{"n":20,"f":"#c8f8f8","d":"#40e0f0","s":["S127","S105","S193","S234","C104","C106","S152"]},
{"n":21,"f":"#d0f060","d":"#e010d0","s":["S127","S193"]},
{"n":21,"f":"#e8f8c0","d":"#d010d0","s":["S152"]},
{"n":22,"f":"#e0f8f8","d":"#60f0f0","s":["S193"]},
{"n":22,"f":"#70b0e0","d":"#f0a020","s":["S234"]},
{"n":23,"f":"#c0f060","d":"#e010d0","s":["S193"]},
{"n":24,"f":"#b0f0a0","d":"#d010d0","s":["S193"]},
{"n":25,"f":"#e070d0","d":"#90e050","s":["C104","C106"]},
{"n":26,"f":"#e070d0","d":"#a0e040","s":["S127","S105","S193","C104","C106","S152"]},
{"n":27,"f":"#6090c0","d":"#a01080","s":["C1","C104","C106"]},
{"n":28,"f":"#1030e0","d":"#e0f8f8","s":["S127","S105","S193","C1","S234"]},
{"n":29,"f":"#e07020","d":"#60b040","s":["S127","S105","S193","C1","S234"]},
{"n":30,"f":"#c0d8f8","d":"#b0a0f0","s":["S127","S105","S193","C1","S234"]},
{"n":31,"f":"#6070b0","d":"#e06020","s":["S105","S193"]},
{"n":32,"f":"#5060b0","d":"#e06020","s":["S105","S193","C1","S234"]},
{"n":33,"f":"#90e070","d":"#70c080","s":["S105"]},
{"n":34,"f":"#f8f8f8","d":"#c0e8f8","s":["S105","S193","C1","S234"]},
{"n":35,"f":"#f8f040","d":"#9010c0","s":["S105","S193","C1","C104","C106"]},
{"n":40,"f":"#e0a0e0","d":"#f0b060","s":["S105","S193","C1","C104","C106","2603V/R"]},
{"n":41,"f":"#e0a0e0","d":"#c0e8c0","s":["S105","S193","C1","C104","C106","2603V/R","C113"]},
{"n":45,"f":"#e010a0","d":"#f0f0ff","s":["S105"]},
{"n":46,"f":"#e010a0","d":"#f0f0ff","s":["S105","S193","C1","C104","C106","2603V/R","C113"]},
{"n":47,"f":"#f8f030","d":"#e01060","s":["S105","S193","C1","C104","C106","2603V/R","C113"]},
{"n":48,"f":"#e07020","d":"#7070c0","s":["S105","S193","C104","C106","2603V/R","C113","S298"]},
{"n":48,"f":"#f8f040","d":"#a020f0","s":["C1"]},
{"n":8,"f":"#f0e0a0","d":"#50a0f0","s":["C1"]},
{"n":9,"f":"#a0e0e0","d":"#f0b020","s":["C1","S234","C104","C106","S152"]},
{"n":10,"f":"#d01050","d":"#f8f0f8","s":["C1","S234","C104","C106","S152"]},
{"n":11,"f":"#d0f0b0","d":"#b0b0b0","s":["C1","S234","C104","C106","S152"]},
{"n":12,"f":"#b0e8b0","d":"#f07010","s":["C1","C104","C106","S152"]},
{"n":13,"f":"#a00000","d":"#8000c0","s":["C1","C104","C106","S152"]},
{"n":14,"f":"#c0b8f0","d":"#f0f0a0","s":["C1","S234","C104","C106","S152"]},
{"n":7,"f":"#e07020","d":"#60b040","s":["S234"]},
{"n":8,"f":"#a0a030","d":"#60a040","s":["S234"]},
{"n":7,"f":"#90f0f0","d":"#80f0a0","s":["C104","C106","S152"]},
{"n":8,"f":"#a060b0","d":"#a0a020","s":["C104","C106"]},
{"n":5,"f":"#707070","d":"#202020","s":["S152"]},
{"n":6,"f":"#709030","d":"#305010","s":["S152"]},
{"n":14,"f":"#e010d0","d":"#90f030","s":["2603V/R"]},
{"n":15,"f":"#e070c0","d":"#c060c0","s":["2603V/R"]},
{"n":16,"f":"#b070c0","d":"#a060c0","s":["2603V/R"]},
{"n":17,"f":"#b06080","d":"#a04040","s":["2603V/R"]},
{"n":18,"f":"#90f0a0","d":"#60c050","s":["2603V/R"]},
{"n":19,"f":"#d0c0f0","d":"#f0f0f8","s":["2603V/R"]},
{"n":20,"f":"#d0f0d0","d":"#c0b0b0","s":["2603V/R"]},
{"n":21,"f":"#f0e0a0","d":"#f0f030","s":["2603V/R"]},
{"n":22,"f":"#d0a0f0","d":"#6010f0","s":["2603V/R"]},
{"n":23,"f":"#e07020","d":"#f0a060","s":["2603V/R"]},
{"n":24,"f":"#f0e040","d":"#f0f030","s":["2603V/R"]},
{"n":25,"f":"#a0e8f8","d":"#f0f8c0","s":["2603V/R"]},
{"n":26,"f":"#70e0a0","d":"#c0f0c0","s":["2603V/R"]},
{"n":27,"f":"#e07040","d":"#f0c080","s":["2603V/R"]},
{"n":28,"f":"#1030e0","d":"#e0f8f8","s":["2603V/R"]},
{"n":29,"f":"#e07020","d":"#60b040","s":["2603V/R"]},
{"n":30,"f":"#c0d8f8","d":"#b0a0f0","s":["2603V/R"]},
{"n":32,"f":"#5060b0","d":"#e06020","s":["2603V/R"]},
{"n":31,"f":"#a0e8f8","d":"#507090","s":["S298"]},
{"n":32,"f":"#e0a0a0","d":"#b01010","s":["S298"]},
{"n":33,"f":"#f0f0f8","d":"#e01050","s":["S298"]},
{"n":34,"f":"#f0f8f8","d":"#f0f0f8","s":["S298"]},
{"n":35,"f":"#f0f0a0","d":"#a000c0","s":["S298"]},
{"n":36,"f":"#c0b0f0","d":"#b0b0c0","s":["S298"]},
{"n":37,"f":"#d0c0f0","d":"#e010c0","s":["S298"]},
{"n":38,"f":"#90e070","d":"#70b050","s":["S298"]},
{"n":39,"f":"#b0f0d0","s":["S298"]},
{"n":40,"f":"#e0a0e0","d":"#f0b060","s":["S298"]},
{"n":42,"f":"#e06020","d":"#e010a0","s":["S298"]},
{"n":43,"f":"#c0c0f8","d":"#f8f8f8","s":["S298"]},
{"n":44,"f":"#d0f8f0","d":"#f0f0a0","s":["S298"]},
{"n":45,"f":"#b06060","d":"#a04040","s":["S298"]},
{"n":18,"f":"#e070d0","d":"#ffff40","s":["C113"]},
{"n":19,"f":"#e070c0","d":"#80c040","s":["C113"]},
{"n":20,"f":"#a03010","s":["C113"]},
{"n":21,"f":"#60b0f0","d":"#f0a060","s":["C113"]},
{"n":22,"f":"#b0a0e8","d":"#c090d0","s":["C113"]},
{"n":23,"f":"#e060d0","d":"#c050c0","s":["C113"]},
{"n":24,"f":"#e010f0","d":"#f0e040","s":["C113"]},
{"n":25,"f":"#6010c0","d":"#e0c0f0","s":["C113"]},
{"n":26,"f":"#f0c0c0","d":"#6010c0","s":["C113"]},
{"n":27,"f":"#f07040","d":"#f0a060","s":["C113"]},
{"n":28,"f":"#a0a030","d":"#9010b0","s":["C113"]},
{"n":29,"f":"#a0e070","d":"#e0f0a0","s":["C113"]},
{"n":30,"f":"#b0e090","d":"#c08020","s":["C113"]},
{"n":31,"f":"#e0a0f0","d":"#f0b0f0","s":["C113"]},
{"n":32,"f":"#e8b020","d":"#f06020","s":["C113"]},
{"n":33,"f":"#a0a0a0","d":"#80c0c0","s":["C113"]},
{"n":27,"f":"#e0a020","d":"#f0f060","s":["E546"]},
{"n":28,"f":"#c0e0f8","d":"#e01010","s":["E546"]},
{"n":29,"f":"#b0e8a0","d":"#f0f0c0","s":["E546"]},
{"n":30,"f":"#f8f0d8","d":"#f8f8d0","s":["E546","C97"]},
{"n":31,"f":"#407030","d":"#e07060","s":["E546","C97"]},
{"n":32,"f":"#c0c0f0","d":"#101070","s":["E546"]},
{"n":33,"f":"#807030","s":["E546"]},
{"n":32,"f":"#90b0f0","d":"#e0d0f8","s":["C97"]},
{"n":33,"f":"#f0f8f8","d":"#e050a0","s":["C97"]},
{"n":31,"f":"#800020","d":"#90f040","s":["S146"]},
{"n":32,"f":"#90e0a0","d":"#a070c0","s":["S146"]},
{"n":33,"f":"#b08830","d":"#b08820","s":["S146"]},
{"n":34,"f":"#a07020","d":"#f0b0a0","s":["S146"]},
{"n":35,"f":"#e0b0b0","d":"#307070","s":["S146"]},
{"n":36,"f":"#c0f020","d":"#e0f040","s":["S146"]},
{"n":37,"f":"#a070c0","d":"#b06020","s":["S146"]},
{"n":38,"f":"#a07020","d":"#906020","s":["S146"]},
{"n":39,"f":"#90f040","d":"#60a020","s":["S146"]},
{"n":40,"f":"#e05010","d":"#201060","s":["S146"]},
{"n":41,"f":"#d02020","s":["S146"]},
{"n":42,"f":"#e01050","d":"#e01040","s":["S146"]},
{"n":43,"f":"#f09090","d":"#70e0a0","s":["S146"]},
{"n":44,"f":"#d010f0","d":"#e090f0","s":["S146"]},
{"n":45,"f":"#e0a0f0","d":"#f8f030","s":["S146"]},
{"n":46,"f":"#e07020","d":"#f0a050","s":["S146"]},
{"n":47,"f":"#a0f0f0","d":"#b0f8f0","s":["S146"]},
{"n":48,"f":"#b0a8a8","d":"#80c030","s":["S146"]},
{"n":49,"f":"#a0f8e8","d":"#b0f8f0","s":["S146"]},
{"n":38,"f":"#b070c0","s":["C94","C82"]},
{"n":39,"f":"#f0f020","d":"#f0a0d0","s":["C94","C82"]},
{"n":40,"f":"#b0f0b0","d":"#c090c0","s":["C94","C82"]},
{"n":41,"f":"#70b8e8","d":"#a0f050","s":["C94","C82"]},
{"n":42,"f":"#e8d0f8","d":"#f0f0f8","s":["C94","C82"]},
{"n":43,"f":"#e8b030","d":"#f07090","s":["C94","C82"]},
{"n":44,"f":"#60a8f0","d":"#f8f040","s":["C94","C82"]},
{"n":45,"f":"#f8f060","d":"#a000a0","s":["C94","C82"]},
{"n":46,"f":"#a0e0b0","d":"#d05080","s":["C94","C82"]},
{"n":47,"f":"#a0a020","d":"#f0f040","s":["C94","C82"]},
{"n":48,"f":"#c0d050","d":"#e0e040","s":["C94","C82"]},
{"n":49,"f":"#a0e8f0","d":"#f050a0","s":["C94","C82"]},
{"n":50,"f":"#c070e0","d":"#c050a0","s":["C94","C82"]},
{"n":51,"f":"#f0e080","d":"#207070","s":["C94","C82"]}
],
"gta":[{"n":41,"s":["C165A","C115","C159"],"t":"gta"}],
"rts":[
{"n":"RT","c":"#d01010","f":"#000000","s":["S14","S120","S128","S94","S313","C191","S202","S2","S143","S179","S107","S195","S7","C213","C214","S129","S130","S135","S192","S103","S39","S38","S191","C8","S184","S194","S34","S173","S118","S24"]},
{"n":"RT","c":"#801010","f":"#000000","s":["C87"]},
{"n":"RT","c":"#70c8e8","f":"#0a1418","s":["S167","C133","C75","C230","S12","S322","S102","C52","S148","S125","S158","S108","S101","S291","C196","E198","C20","C57","C18","S264","S318","C194","NEM316","C226","S165","S151","C12"]},
{"n":"RT","c":"#ffffff","f":"#000000","s":["A909","C168","S180","S92","C165A","C115","C159","C175","C40","C234","C112","E237","C193","C29","C34","E207","S210","C81","C89","S402","S378","C165U","C166","S274","S47","C15","C22","C39","C219A","C96","C188","C198","C120","C50","S182","C13","C124","S247","S293","C23","S280","C66","C99","C116","C221","S299","S163","S147","S257","C219U","C197","S352","S127","S105","S193","C1","S234","C104","C106","S152","2603V/R","S298","C113","E546","C97","S146"]},
{"n":"RT","c":"#3a8020","f":"#000000","s":["C94","C82"]}
],
"names":[{"n":"Strain","s":["S14","S120","S128","S94","S313","C191","S202","S2","S143","S179","S107","S195","S7","C213","C214","S129","S130","S135","S192","S103","S39","S38","S191","C8","S184","S194","S34","S173","S118","S24","C87","S167","C133","C75","C230","S12","S322","S102","C52","S148","S125","S158","S108","S101","S291","C196","E198","C20","C57","C18","S264","S318","C194","NEM316","C226","S165","S151","C12","A909","C168","S180","S92","C165A","C115","C159","C175","C40","C234","C112","E237","C193","C29","C34","E207","S210","C81","C89","S402","S378","C165U","C166","S274","S47","C15","C22","C39","C219A","C96","C188","C198","C120","C50","S182","C13","C124","S247","S293","C23","S280","C66","C99","C116","C221","S299","S163","S147","S257","C219U","C197","S352","S127","S105","S193","C1","S234","C104","C106","S152","2603V/R","S298","C113","E546","C97","S146","C94","C82"]}],
"trailers":[{"n":"Trailer","t":"ttgtgg...","s":["S14","S120","S128","S94","S313","C191","S202","S2","S143","S179","S107","S195","S7","C213","C214","S129","S130","S135","S192","S103","S39","S38","S191","C8","S184","S194","S34","S173","S118","S24","C87","S167","C133","C75","C230","S12","S322","S102","C52","S148","S125","S158","S108","S101","S291","C196","E198","C20","C57","C18","S264","S318","C194","NEM316","C226","S165","S151","C12","A909","C168","S92","C165A","C115","C159","C175","C40","C234","C112","E237","C193","C29","C34","E207","S210","C81","C89","S402","S378","C165U","C166","S274","S47","C15","C22","C39","C219A","C96","C188","C198","C120","C50","S182","C13","C124","S247","S293","C23","S280","C66","C99","C116","C221","S299","S163","S147","S257","C219U","C197","S352","S127","S105","S193","C1","S234","C104","C106","S152","2603V/R","S298","C113","E546","C97","S146","C94","C82"]},{"n":"Trailer","t":"ttgtg...","s":["S180"]}],
"table":[
{"s":["S14","S120","S128","S94","S313","C191","S202","S2","S143","S179","S107","S195","S7","C213","C214","S129","S130","S135","S192","S103","S39","S38","S191","C8","S184","S194","S34","S173","S118","S24"],"CC":"17","ST":"17","Serot":"III","Leader":"...tacgag"},
{"s":["C87"],"CC":"NCC","ST":"130","Serot":"V","Leader":"...tatgag"},
{"s":["S167"],"CC":"NCC","ST":"24","Serot":"Ia","Leader":"...tacgag"},
{"s":["C133","C194"],"CC":"23","ST":"220","Serot":"Ia","Leader":"...tacgag"},
{"s":["C75"],"CC":"23","ST":"305","Serot":"Ia","Leader":"...tacgag"},
{"s":["C230"],"CC":"23","ST":"144","Serot":"Ia","Leader":"...tacgag"},
{"s":["C52"],"CC":"23","ST":"223","Serot":"Ia","Leader":"...tacgag"},
{"s":["E198"],"CC":"23","ST":"385","Serot":"Ia","Leader":"...tacgag"},
{"s":["S12","S322","S102","S148","S125","S158","S108","S101","S291","C196","C20","C57","C18","S264","S318"],"CC":"23","ST":"23","Serot":"Ia","Leader":"...tacgag"},
{"s":["NEM316","C226","S151"],"CC":"23","ST":"23","Serot":"III","Leader":"...tacgag"},
{"s":["S165"],"CC":"23","ST":"481","Serot":"III","Leader":"...tacgag"},
{"s":["C12"],"CC":"23","ST":"391","Serot":"III","Leader":"...tacgag"},
{"s":["A909"],"CC":"10","ST":"6","Serot":"7","Leader":"...tacgag"},
{"s":["C168"],"CC":"10","ST":"5","Serot":"Ib","Leader":"...ctacga"},
{"s":["S180","S92","C165A","C115","C40","C234","C112"],"CC":"10","ST":"8","Serot":"Ib","Leader":"...ctacga"},
{"s":["C159"],"CC":"10","ST":"8","Serot":"NT","Leader":"...ctacga"},
{"s":["C175"],"CC":"10","ST":"390","Serot":"Ib","Leader":"...ctacga"},
{"s":["E237"],"CC":"10","ST":"10","Serot":"Ib","Leader":"...ctacga"},
{"s":["C193"],"CC":"10","ST":"10","Serot":"IV","Leader":"...tacgag"},
{"s":["C29"],"CC":"10","ST":"10","Serot":"NT","Leader":"...tacgag"},
{"s":["C34"],"CC":"10","ST":"10","Serot":"NT","Leader":"...ctacga"},
{"s":["E207"],"CC":"10","ST":"10","Serot":"V","Leader":"...ctacga"},
{"s":["S210","S402","S378"],"CC":"10","ST":"12","Serot":"Ib","Leader":"...tacgag"},
{"s":["C81"],"CC":"10","ST":"12","Serot":"III","Leader":"...ctacga"},
{"s":["C89"],"CC":"10","ST":"7","Serot":"NT","Leader":"...tacgag"},
{"s":["C165U"],"CC":"10","ST":"41","Serot":"Ib","Leader":"...tacgag"},
{"s":["C166"],"CC":"10","ST":"41","Serot":"III","Leader":"...tacgag"},
{"s":["S274"],"CC":"10","ST":"255","Serot":"Ib","Leader":"...tacgag"},
{"s":["S47"],"CC":"10","ST":"6","Serot":"Ib","Leader":"...tacgag"},
{"s":["C15"],"CC":"1","ST":"2","Serot":"II","Leader":"...gaggtt"},
{"s":["C22","C219U"],"CC":"1","ST":"2","Serot":"NT","Leader":"...tacgag"},
{"s":["C39"],"CC":"1","ST":"2","Serot":"Ia","Leader":"...tacgag"},
{"s":["C219A","C188"],"CC":"1","ST":"196","Serot":"IV","Leader":"...tacgag"},
{"s":["C96"],"CC":"1","ST":"196","Serot":"Ib","Leader":"...tacgag"},
{"s":["C198","C120","S182","C13","C124","S247","C23","S280","C66","S299","S163","S147","S257"],"CC":"1","ST":"1","Serot":"V","Leader":"...tacgag"},
{"s":["C50"],"CC":"1","ST":"1","Serot":"III","Leader":"...tacgag"},
{"s":["S293"],"CC":"1","ST":"173","Serot":"V","Leader":"...tacgag"},
{"s":["C99"],"CC":"1","ST":"370","Serot":"V","Leader":"...tacgag"},
{"s":["C116"],"CC":"1","ST":"1","Serot":"NT","Leader":"...tacgag"},
{"s":["C221"],"CC":"1","ST":"1","Serot":"II","Leader":"...tacgag"},
{"s":["C197"],"CC":"1","ST":"2","Serot":"Ib","Leader":"...tacgag"},
{"s":["S352","S127","S105","S193","C1","S234","C104","C106","S152"],"CC":"19","ST":"19","Serot":"III","Leader":"...tacgag"},
{"s":["2603V/R"],"CC":"19","ST":"110","Serot":"V","Leader":"...tacgag"},
{"s":["S298"],"CC":"19","ST":"19","Serot":"NT","Leader":"...tacgag"},
{"s":["C113"],"CC":"19","ST":"389","Serot":"III","Leader":"...tacgag"},
{"s":["E546"],"CC":"19","ST":"386","Serot":"II","Leader":"...acgagg"},
{"s":["C97"],"CC":"19","ST":"28","Serot":"V","Leader":"...tacgag"},
{"s":["S146"],"CC":"NCC","ST":"4","Serot":"Ia","Leader":"...tacgag"},
{"s":["C94","C82"],"CC":"NCC","ST":"388","Serot":"V","Leader":"...tacgag"}
],
"numbers":[{"s":"h2","n":[1,2,3,4,5,6,7,8,9,10,11,12,13,14,15,16,17,18,19,20,21,22,23,24,25,26,27,28,29,30,31,32,33,34,35,36,37,38,39,40,41,42,43,44,45,46,47,48,49,50,51,"RT"]}],
"heads":[{"n":"Strain","s":"h2","t":"Strain","k":"a"},{"n":"CC","s":"h2","t":"CC","k":"b"},{"n":"ST","s":"h2","t":"ST","k":"c"},{"n":"Serot","s":"h2","t":"Serot.","k":"a"},{"n":"Leader","s":"h1","t":"Leader","k":"d"},{"n":"Leader","s":"h2","t":"(end)","k":"d"},{"n":"Trailer","s":"h1","t":"Trailer","k":"e"},{"n":"Trailer","s":"h2","t":"(begin","k":"e"}]
},
"encoding":{
"x":{"field":"n","type":"nominal","axis":null,"scale":{"type":"band","range":[0,897.6],"paddingInner":0,"paddingOuter":0,"domain":["p0","p1","Strain","p3","CC","p5","ST","p7","Serot","p9","Leader","p11",1,2,3,4,5,6,7,8,9,10,11,12,13,14,15,16,17,18,19,20,21,22,23,24,25,26,27,28,29,30,31,32,33,34,35,36,37,38,39,40,41,42,43,44,45,46,47,48,49,50,51,"RT","Trailer","p65"]}},
"y":{"field":"s","type":"nominal","axis":null,"scale":{"type":"band","range":[6.86,1447.69],"paddingInner":0,"paddingOuter":0,"domain":["h1","h2","S14","S120","S128","S94","S313","C191","S202","S2","S143","S179","S107","S195","S7","C213","C214","S129","S130","S135","S192","g1","S103","S39","S38","S191","C8","S184","S194","g2","S34","S173","g3","S118","S24","g4","C87","g5","S167","g6","C133","C75","C230","S12","S322","S102","C52","S148","S125","S158","S108","S101","S291","C196","E198","C20","C57","C18","S264","S318","C194","g7","NEM316","C226","S165","S151","C12","g8","A909","g9","C168","S180","S92","C165A","C115","C159","C175","C40","C234","C112","g10","E237","C193","C29","C34","E207","S210","C81","C89","S402","g11","S378","C165U","C166","S274","S47","g12","C15","C22","C39","g13","C219A","C96","C188","g14","C198","C120","C50","S182","C13","C124","S247","S293","C23","S280","C66","C99","C116","C221","S299","S163","S147","S257","g15","C219U","C197","g16","S352","S127","S105","S193","g17","C1","S234","C104","C106","S152","g18","2603V/R","g19","S298","C113","E546","C97","g20","S146","g21","C94","C82"]}}
},
"layer":[
{"data":{"name":"seps"},"transform":[{"filter":"datum.k=='d'"}],"mark":{"type":"rule","stroke":"#222","strokeWidth":1.6,"strokeDash":[8,4],"xOffset":-6.8,"x2Offset":3.4},"encoding":{"x2":{"field":"n2"}}},
{"data":{"name":"seps"},"transform":[{"filter":"datum.k=='s'"}],"mark":{"type":"rule","stroke":"#333","strokeWidth":2,"xOffset":-6.8,"x2Offset":6.4},"encoding":{"x2":{"field":"n2"}}},
{"data":{"name":"seps"},"transform":[{"filter":"datum.k=='w'"}],"mark":{"type":"rule","stroke":"#333","strokeWidth":4.4,"xOffset":-6.8,"x2Offset":6.4},"encoding":{"x2":{"field":"n2"}}},
{"data":{"name":"seps"},"transform":[{"filter":"datum.k=='w'"}],"mark":{"type":"rule","stroke":"#fff","strokeWidth":1,"xOffset":-6.8,"x2Offset":6.4},"encoding":{"x2":{"field":"n2"}}},
{"data":{"name":"ticks"},"transform":[{"flatten":["n"]}],"mark":{"type":"tick","orient":"vertical","size":9,"thickness":1,"color":"#555","opacity":1}},
{"data":{"name":"absent"},"transform":[{"flatten":["s"]},{"flatten":["n"]}],"mark":{"type":"point","shape":"M-1,-0.75H1V0.75H-1Z","size":46,"filled":true,"fill":"#fff","stroke":"#bdbdbd","strokeWidth":1.8,"opacity":1}},
{"data":{"name":"absent"},"transform":[{"flatten":["s"]},{"flatten":["n"]}],"mark":{"type":"point","shape":"M-1,-0.75H1V0.75H-1ZM-0.5,-0.4L0.5,0.4M-0.5,0.4L0.5,-0.4","size":46,"filled":false,"stroke":"#222","strokeWidth":0.7,"opacity":1}},
{"data":{"name":"cells"},"transform":[{"flatten":["s"]}],"mark":{"type":"rect","stroke":"#4a4a4a","strokeWidth":1},"encoding":{"fill":{"field":"f","type":"nominal","scale":null}}},
{"data":{"name":"cells"},"transform":[{"flatten":["s"]},{"filter":"datum.d"}],"mark":{"type":"point","shape":"diamond","size":32,"filled":true,"opacity":1},"encoding":{"fill":{"field":"d","type":"nominal","scale":null}}},
{"data":{"name":"gta"},"transform":[{"flatten":["s"]}],"mark":{"type":"text","color":"#e02020","fontSize":8,"fontWeight":"bold"},"encoding":{"text":{"field":"t"}}},
{"data":{"name":"rts"},"transform":[{"flatten":["s"]}],"mark":{"type":"rect","stroke":"#000","strokeWidth":0.5},"encoding":{"fill":{"field":"f","type":"nominal","scale":null}}},
{"data":{"name":"rts"},"transform":[{"flatten":["s"]}],"mark":{"type":"text","fontSize":8.5},"encoding":{"text":{"field":"n"},"color":{"field":"c","type":"nominal","scale":null}}},
{"data":{"name":"names"},"transform":[{"flatten":["s"]}],"mark":{"type":"text","fontWeight":"bold","dx":-5},"encoding":{"text":{"field":"s"}}},
{"data":{"name":"table"},"transform":[{"flatten":["s"]},{"fold":["CC"],"as":["n","t"]}],"mark":{"type":"text","dx":-1},"encoding":{"text":{"field":"t"}}},
{"data":{"name":"table"},"transform":[{"flatten":["s"]},{"fold":["ST"],"as":["n","t"]}],"mark":{"type":"text","dx":-6},"encoding":{"text":{"field":"t"}}},
{"data":{"name":"table"},"transform":[{"flatten":["s"]},{"fold":["Serot"],"as":["n","t"]}],"mark":{"type":"text","dx":-5},"encoding":{"text":{"field":"t"}}},
{"data":{"name":"table"},"transform":[{"flatten":["s"]},{"fold":["Leader"],"as":["n","t"]}],"mark":{"type":"text","align":"left","dx":-12.8},"encoding":{"text":{"field":"t"}}},
{"data":{"name":"trailers"},"transform":[{"flatten":["s"]}],"mark":{"type":"text","align":"left","dx":-6.2},"encoding":{"text":{"field":"t"}}},
{"data":{"name":"numbers"},"transform":[{"flatten":["n"]}],"mark":{"type":"text","angle":270,"fontSize":6.5,"yOffset":-4.4},"encoding":{"text":{"field":"n"}}},
{"data":{"name":"heads"},"transform":[{"filter":"datum.k=='a'"}],"mark":{"type":"text","fontWeight":"bold","dx":-5,"yOffset":-4.4},"encoding":{"text":{"field":"t"}}},
{"data":{"name":"heads"},"transform":[{"filter":"datum.k=='b'"}],"mark":{"type":"text","fontWeight":"bold","dx":-1,"yOffset":-4.4},"encoding":{"text":{"field":"t"}}},
{"data":{"name":"heads"},"transform":[{"filter":"datum.k=='c'"}],"mark":{"type":"text","fontWeight":"bold","dx":-6,"yOffset":-4.4},"encoding":{"text":{"field":"t"}}},
{"data":{"name":"heads"},"transform":[{"filter":"datum.k=='d'"}],"mark":{"type":"text","fontWeight":"bold","dx":2},"encoding":{"text":{"field":"t"}}},
{"data":{"name":"heads"},"transform":[{"filter":"datum.k=='e'"}],"mark":{"type":"text","fontWeight":"bold","align":"left","dx":-2},"encoding":{"text":{"field":"t"}}}
]
}
